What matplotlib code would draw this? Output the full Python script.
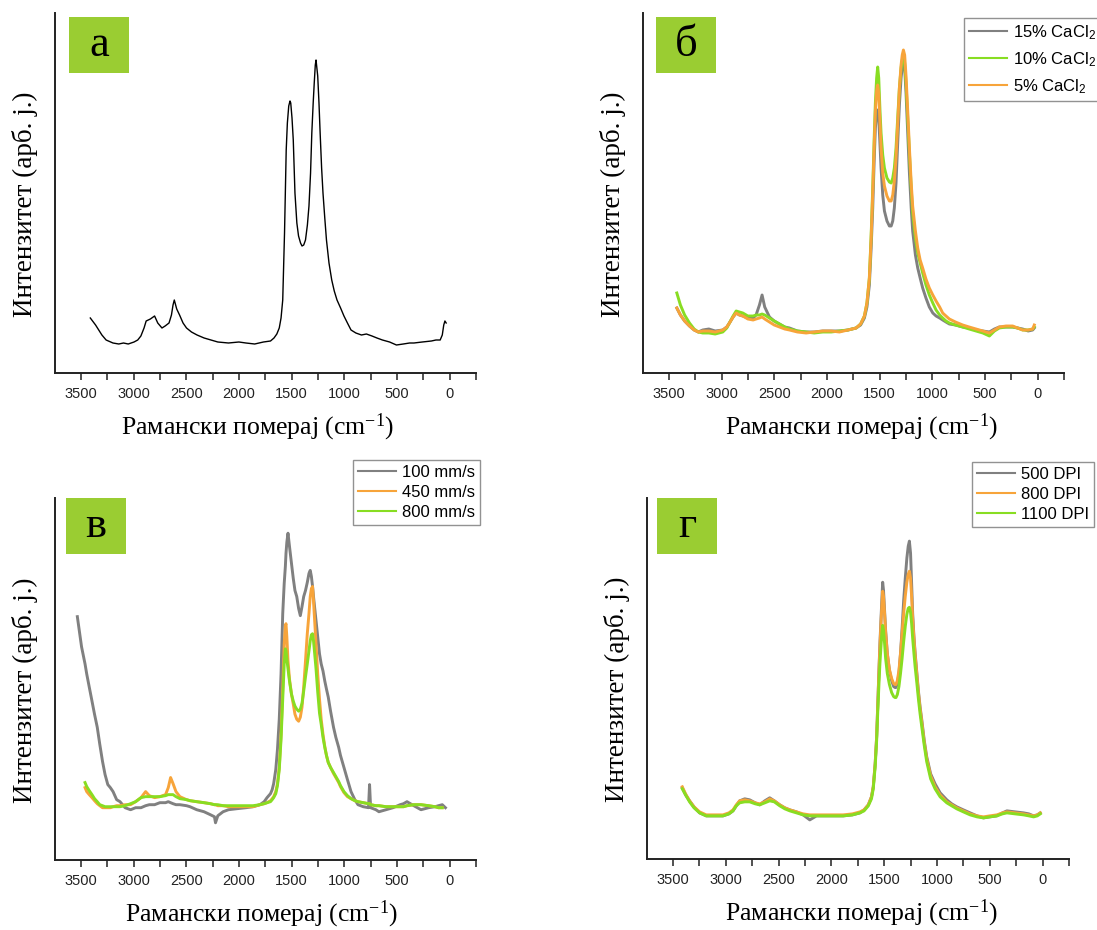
import numpy as np
import matplotlib
matplotlib.use("Agg")
import matplotlib.pyplot as plt
from matplotlib.ticker import MultipleLocator
from matplotlib.patches import Rectangle

# ---------------- data (Raman shift in cm^-1, intensity in arbitrary units) ----------------
# panel а
wn_a = [3410, 3360, 3300, 3260, 3195, 3140, 3095, 3050, 2995, 2960, 2930, 2900, 2880, 2840, 2800,
        2770, 2730, 2700, 2663, 2640, 2625, 2613, 2590, 2563, 2530, 2497, 2450, 2397, 2330, 2265,
        2200, 2099, 2000, 1933, 1850, 1767, 1700, 1667, 1640, 1617, 1600, 1584, 1567, 1551, 1540,
        1527, 1515, 1508, 1496, 1484, 1468, 1450, 1434, 1415, 1401, 1385, 1368, 1350, 1335, 1320,
        1308, 1295, 1285, 1275, 1268, 1260, 1252, 1240, 1229, 1215, 1202, 1185, 1169, 1145, 1119,
        1095, 1069, 1035, 1003, 970, 936, 890, 837, 790, 737, 690, 638, 570, 505, 440, 380, 339,
        260, 173, 130, 90, 70, 56, 45, 33]
int_a = [55, 48, 38, 33, 30, 29, 30, 29, 31, 33, 37, 45, 52, 54, 57,
         50, 45, 47, 50, 58, 68, 73, 64, 58, 50, 45, 41, 38, 35, 33,
         31, 30, 31, 30, 29, 31, 32, 35, 39, 45, 55, 73, 140, 223, 250,
         267, 272, 270, 255, 233, 180, 150, 137, 130, 127, 128, 133, 148, 167, 200,
         240, 270, 290, 308, 313, 305, 297, 270, 240, 205, 180, 155, 133, 110, 93,
         82, 73, 65, 57, 50, 43, 40, 38, 39, 37, 35, 33, 31, 28, 29, 30, 30,
         31, 32, 33, 33, 38, 48, 52, 50]

# panel б
wn_b = [3424, 3390, 3350, 3304, 3260, 3220, 3178, 3120, 3060, 2988, 2950, 2925, 2890, 2861, 2830,
        2798, 2750, 2700, 2672, 2640, 2615, 2590, 2545, 2500, 2450, 2400, 2355, 2280, 2197, 2120,
        2039, 1960, 1881, 1800, 1723, 1680, 1644, 1620, 1597, 1580, 1565, 1552, 1540, 1528, 1518,
        1508, 1496, 1486, 1470, 1454, 1430, 1407, 1390, 1375, 1360, 1344, 1328, 1312, 1296, 1285,
        1274, 1262, 1249, 1233, 1217, 1200, 1186, 1160, 1138, 1115, 1091, 1060, 1028, 995, 964,
        930, 901, 870, 838, 780, 711, 650, 585, 520, 458, 410, 364, 300, 237, 190, 142, 90, 47, 32]
cacl_15 = [65, 58, 52, 47, 43, 41, 43, 44, 42, 43, 46, 50, 56, 60, 58,
           57, 55, 55, 58, 68, 78, 66, 56, 52, 49, 46, 45, 42, 41, 41,
           42, 42, 42, 43, 45, 48, 55, 66, 88, 125, 165, 210, 245, 260, 263,
           255, 228, 205, 178, 162, 152, 147, 147, 152, 165, 190, 230, 268, 295, 306,
           311, 305, 280, 240, 200, 165, 142, 118, 105, 95, 85, 75, 66, 60, 57,
           55, 53, 51, 49, 48, 46, 45, 43, 42, 41, 44, 46, 46, 46, 45, 44, 42, 43, 45]
cacl_10 = [80, 68, 58, 50, 44, 41, 40, 40, 39, 41, 45, 50, 57, 62, 61,
           60, 57, 57, 58, 58, 59, 58, 55, 52, 49, 46, 44, 42, 41, 40,
           41, 41, 42, 43, 45, 49, 57, 70, 95, 138, 185, 232, 270, 295, 306,
           295, 262, 240, 218, 205, 195, 191, 190, 195, 205, 225, 255, 285, 305, 313,
           316, 310, 290, 255, 220, 185, 160, 135, 120, 110, 100, 88, 78, 70, 63,
           58, 55, 52, 50, 48, 46, 44, 42, 40, 37, 42, 45, 46, 46, 45, 43, 43, 44, 46]
cacl_5 = [65, 58, 52, 47, 43, 41, 42, 42, 41, 43, 46, 50, 56, 60, 58,
          57, 54, 53, 54, 55, 56, 54, 51, 48, 46, 44, 43, 41, 40, 41,
          42, 42, 41, 43, 45, 49, 57, 70, 95, 135, 180, 225, 262, 282, 288,
          280, 250, 225, 200, 187, 177, 172, 172, 178, 192, 215, 250, 285, 308, 318,
          323, 318, 297, 262, 225, 190, 167, 142, 125, 113, 105, 94, 85, 78, 72,
          66, 60, 57, 54, 51, 48, 46, 44, 42, 40, 43, 46, 47, 47, 45, 43, 43, 44, 48]

# panel в
wn_v = [3533, 3493, 3460, 3444, 3420, 3394, 3370, 3344, 3320, 3294, 3270, 3244, 3220, 3194, 3160,
        3128, 3080, 3028, 2980, 2929, 2885, 2850, 2800, 2750, 2696, 2670, 2648, 2625, 2597, 2560,
        2497, 2464, 2400, 2331, 2270, 2232, 2222, 2200, 2150, 2099, 2020, 1933, 1866, 1800, 1760,
        1733, 1700, 1684, 1670, 1650, 1634, 1617, 1600, 1584, 1570, 1559, 1553, 1545, 1534, 1520,
        1501, 1484, 1468, 1451, 1433, 1417, 1401, 1385, 1368, 1351, 1335, 1323, 1312, 1301, 1292,
        1285, 1268, 1252, 1235, 1219, 1202, 1185, 1169, 1152, 1130, 1102, 1080, 1053, 1036, 1003,
        970, 936, 900, 870, 820, 770, 760, 750, 700, 671, 604, 538, 470, 438, 405, 340, 272, 200,
        139, 106, 70, 40]
speed_100 = [242, 212, 195, 185, 172, 158, 145, 132, 115, 98, 85, 75, 72, 68, 60,
             58, 52, 50, 52, 52, 54, 55, 55, 57, 57, 58, 57, 56, 55, 55,
             54, 53, 50, 48, 45, 43, 37, 44, 48, 50, 51, 52, 53, 55, 58,
             62, 66, 70, 76, 90, 110, 140, 185, 245, 275, 292, 305, 316, 325, 312,
             295, 280, 268, 262, 250, 243, 252, 262, 268, 276, 285, 288, 282, 272, 262,
             255, 238, 222, 205, 195, 188, 178, 170, 162, 148, 132, 122, 112, 104, 92,
             80, 68, 60, 55, 53, 52, 75, 52, 50, 48, 50, 52, 55, 56, 58, 54, 50, 52,
             53, 54, 55, 52]
speed_450 = [np.nan, np.nan, 72, 68, 65, 62, 59, 56, 54, 52, 52, 52, 52, 53, 54,
             54, 55, 55, 58, 62, 68, 64, 62, 63, 65, 72, 82, 76, 68, 63,
             60, 59, 58, 57, 56, 55, 55, 54, 54, 53, 53, 53, 53, 55, 56,
             57, 59, 61, 63, 68, 76, 92, 125, 170, 215, 233, 235, 222, 198, 180,
             165, 155, 145, 140, 138, 142, 152, 172, 198, 225, 245, 262, 270, 272, 258,
             245, 215, 185, 160, 140, 125, 113, 104, 97, 92, 86, 82, 77, 73, 67,
             63, 61, 59, 58, 57, 56, 56, 55, 54, 54, 53, 53, 53, 53, 54, 55, 55, 54,
             53, 52, 52, np.nan]
speed_800 = [np.nan, np.nan, 77, 73, 69, 65, 61, 58, 55, 54, 53, 53, 53, 53, 53,
             53, 54, 56, 58, 62, 63, 63, 63, 63, 64, 65, 65, 65, 63, 61,
             60, 59, 58, 57, 56, 55, 55, 55, 54, 54, 54, 54, 54, 55, 56,
             57, 58, 60, 62, 66, 74, 90, 120, 160, 195, 210, 208, 200, 190, 178,
             165, 158, 153, 150, 148, 150, 156, 168, 182, 195, 208, 218, 224, 225, 218,
             210, 190, 167, 146, 135, 122, 112, 104, 97, 92, 87, 83, 78, 74, 68,
             64, 61, 59, 58, 57, 56, 56, 55, 54, 54, 53, 53, 53, 53, 54, 55, 55, 54,
             53, 52, 52, np.nan]

# panel г
wn_g = [3411, 3380, 3342, 3300, 3247, 3184, 3100, 3026, 2970, 2931, 2900, 2868, 2820, 2773, 2720,
        2678, 2630, 2583, 2540, 2488, 2440, 2393, 2330, 2267, 2204, 2140, 2077, 2000, 1888, 1800,
        1729, 1690, 1650, 1620, 1603, 1585, 1571, 1560, 1549, 1540, 1530, 1522, 1514, 1506, 1496,
        1486, 1470, 1450, 1429, 1410, 1397, 1388, 1375, 1360, 1345, 1330, 1315, 1300, 1285, 1272,
        1261, 1250, 1240, 1230, 1218, 1207, 1190, 1176, 1160, 1144, 1120, 1097, 1060, 1018, 970,
        907, 860, 812, 750, 686, 620, 560, 500, 433, 380, 338, 260, 180, 130, 85, 50, 22]
dpi_500 = [71, 64, 58, 52, 46, 43, 43, 43, 45, 48, 53, 58, 60, 59, 56,
           54, 58, 61, 58, 54, 51, 49, 47, 44, 39, 43, 43, 43, 43, 44,
           46, 49, 54, 62, 72, 95, 122, 155, 189, 215, 239, 258, 276, 268, 248,
           228, 205, 188, 178, 172, 171, 171, 175, 185, 205, 230, 258, 280, 300, 312,
           317, 305, 275, 245, 222, 206, 185, 168, 152, 139, 118, 102, 85, 75, 66,
           59, 55, 52, 49, 46, 43, 41, 42, 43, 46, 48, 47, 46, 45, 43, 44, 46]
dpi_800 = [72, 65, 58, 52, 47, 44, 44, 44, 46, 49, 54, 58, 59, 58, 56,
           55, 57, 60, 58, 54, 51, 49, 47, 45, 44, 44, 44, 44, 44, 45,
           47, 49, 54, 62, 72, 95, 122, 155, 188, 212, 235, 252, 267, 262, 245,
           226, 205, 189, 180, 175, 174, 174, 178, 188, 205, 225, 245, 262, 276, 284,
           287, 280, 262, 240, 220, 204, 183, 166, 150, 137, 116, 100, 83, 72, 64,
           57, 54, 51, 48, 45, 43, 42, 43, 44, 46, 47, 46, 45, 44, 43, 44, 46]
dpi_1100 = [70, 64, 57, 51, 46, 43, 43, 43, 45, 48, 53, 56, 57, 57, 55,
            54, 56, 58, 57, 53, 50, 48, 46, 44, 43, 43, 43, 43, 43, 44,
            46, 48, 53, 60, 70, 92, 118, 148, 175, 195, 212, 225, 233, 228, 215,
            200, 185, 174, 166, 162, 161, 161, 164, 172, 185, 200, 217, 232, 244, 250,
            251, 246, 235, 220, 205, 192, 175, 160, 145, 132, 113, 97, 80, 70, 62,
            56, 53, 50, 47, 44, 42, 41, 42, 43, 45, 46, 45, 44, 43, 42, 43, 45]

legend_b = ["15% CaCl$\\mathregular{_2}$", "10% CaCl$\\mathregular{_2}$", "5% CaCl$\\mathregular{_2}$"]
legend_v = ["100 mm/s", "450 mm/s", "800 mm/s"]
legend_g = ["500 DPI", "800 DPI", "1100 DPI"]
panel_letters = ["а", "б", "в", "г"]
xlabel_text = "Рамански померај (cm$\\mathregular{^{-1}}$)"
ylabel_text = "Интензитет (арб. j.)"

# ---------------- styling ----------------
GREY = "#808080"
ORANGE = "#f7a43a"
GREEN = "#88dd22"
BOX = "#9acd32"
SERIF = ["Liberation Serif", "DejaVu Serif"]
SANS = ["Liberation Sans", "DejaVu Sans"]

W, H = 1097, 930
fig = plt.figure(figsize=(W / 100, H / 100), dpi=100)


def px_axes(l, t, r, b):
    return fig.add_axes([l / W, 1 - b / H, (r - l) / W, (b - t) / H])


axes = [px_axes(55, 13, 476, 373), px_axes(643, 13, 1064, 373),
        px_axes(55, 498, 476, 860), px_axes(647, 498, 1069, 859)]
xlab_x = [0.48, 0.518, 0.49, 0.508]

for i, ax in enumerate(axes):
    ax.set_xlim(3745, -250)
    ax.set_ylim(0, 360)
    for s in ("top", "right"):
        ax.spines[s].set_visible(False)
    for s in ("left", "bottom"):
        ax.spines[s].set_linewidth(1.4)
        ax.spines[s].set_color("#222222")
    ax.set_yticks([])
    ax.xaxis.set_major_locator(MultipleLocator(500))
    ax.xaxis.set_minor_locator(MultipleLocator(250))
    ax.tick_params(axis="x", which="both", direction="out", length=5, width=1.1,
                   color="#222222", pad=5)
    ax.tick_params(axis="x", labelsize=10.5, labelcolor="#222222")
    for lab in ax.get_xticklabels():
        lab.set_family(SANS)
    ax.set_xlabel(xlabel_text, family=SERIF, fontsize=18.5, va="top")
    ax.xaxis.set_label_coords(xlab_x[i], -0.108)
    ax.set_ylabel(ylabel_text, family=SERIF, fontsize=19.5, va="center")
    ax.yaxis.set_label_coords(-0.072, 0.47)

# panel а
axes[0].plot(wn_a, int_a, color="black", lw=1.0)

LW = 2.1
# panel б
axes[1].plot(wn_b, cacl_15, color=GREY, lw=LW, label=legend_b[0])
axes[1].plot(wn_b, cacl_10, color=GREEN, lw=LW, label=legend_b[1])
axes[1].plot(wn_b, cacl_5, color=ORANGE, lw=LW, label=legend_b[2])

# panel в
axes[2].plot(wn_v, speed_100, color=GREY, lw=LW, label=legend_v[0])
axes[2].plot(wn_v, speed_450, color=ORANGE, lw=LW, label=legend_v[1])
axes[2].plot(wn_v, speed_800, color=GREEN, lw=LW, label=legend_v[2])

# panel г
axes[3].plot(wn_g, dpi_500, color=GREY, lw=LW, label=legend_g[0])
axes[3].plot(wn_g, dpi_800, color=ORANGE, lw=LW, label=legend_g[1])
axes[3].plot(wn_g, dpi_1100, color=GREEN, lw=LW, label=legend_g[2])

leg_cfg = {1: ((964, 18), 12, 0.5), 2: ((353, 460), 12, 0.3), 3: ((972, 462), 12, 0.3)}
for k, ((lx, ly), fs, sp) in leg_cfg.items():
    leg = axes[k].legend(loc="upper left", bbox_to_anchor=(lx / W, 1 - ly / H),
                         bbox_transform=fig.transFigure, borderaxespad=0,
                         prop={"family": SANS, "size": fs}, frameon=True, fancybox=False,
                         edgecolor="#777777", handlelength=2.3, handletextpad=0.35,
                         labelspacing=sp, borderpad=0.3)
    leg.get_frame().set_linewidth(1.0)
    for h in leg.get_lines():
        h.set_linewidth(1.5)

# panel letter boxes
boxes = [(69, 17), (656, 17), (66, 498), (657, 498)]
for (bx, by), letter in zip(boxes, panel_letters):
    fig.add_artist(Rectangle((bx / W, 1 - (by + 56) / H), 60 / W, 56 / H,
                             transform=fig.transFigure, facecolor=BOX, edgecolor="none"))
    fig.text((bx + 30) / W, 1 - (by + 28) / H, letter, family=SERIF, fontsize=32,
             ha="center", va="center")

fig.savefig("out.png", dpi=100)
